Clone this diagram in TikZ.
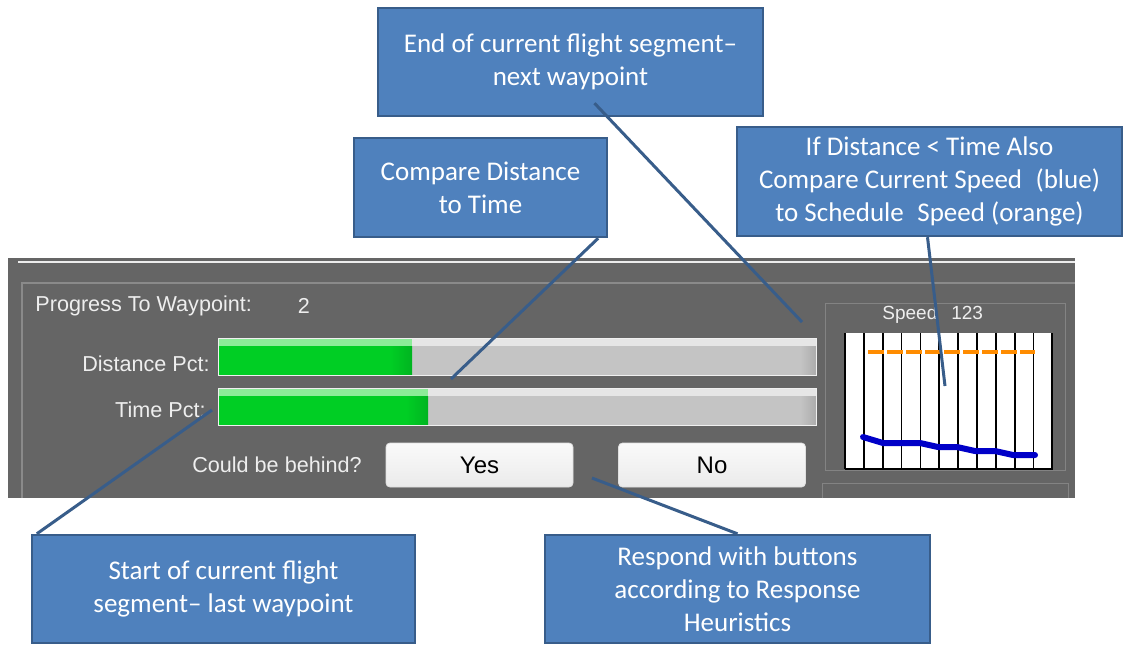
\documentclass[tikz,border=0pt]{standalone}
\usepackage{fontspec}
\setmainfont{Carlito}
\newfontfamily\uifont{Liberation Sans}
\usetikzlibrary{calc}
\definecolor{CallFill}{RGB}{79,129,189}
\definecolor{CallRule}{RGB}{56,93,138}
\definecolor{PanelGray}{RGB}{101,101,101}
\definecolor{PanelRule}{RGB}{138,138,138}
\definecolor{BarGray}{RGB}{196,196,196}
\definecolor{BarLight}{RGB}{230,230,230}
\definecolor{BarGreen}{RGB}{0,206,36}
\definecolor{BarGreenLight}{RGB}{140,236,152}
\definecolor{BarGreenDark}{RGB}{0,180,32}
\definecolor{SchedOrange}{RGB}{255,140,0}
\definecolor{SpeedBlue}{RGB}{0,0,200}
\definecolor{LabelWhite}{RGB}{238,238,238}

\begin{document}
\begin{tikzpicture}[x=0.5pt,y=-0.5pt,
    callout/.style={draw=CallRule,line width=1.2pt,fill=CallFill,text=white,align=center,
      font=\fontsize{13.5}{16.5}\selectfont,inner sep=0pt},
    lead/.style={draw=CallRule,line width=1.5pt},
    uilabel/.style={text=LabelWhite,font=\uifont\fontsize{10.8}{13}\selectfont,inner sep=0pt},
    btn/.style={draw=white!75!gray,rounded corners=2pt,top color=white!96!gray,bottom color=white!84!gray,
      minimum width=93.5pt,minimum height=22pt,font=\uifont\fontsize{12}{14}\selectfont,inner sep=0pt}
  ]
  \useasboundingbox[fill=white] (0,0) rectangle (1128,645);

  % application panel
  \fill[PanelGray] (8,258) rectangle (1075,498);
  \draw[white!85!gray,line width=1pt] (18,262) -- (1075,262);
  \draw[PanelRule,line width=0.6pt] (22,498) -- (22,283) -- (1075,283);

  \node[uilabel,anchor=west] (prog) at (35,306) {Progress To Waypoint:};
  \node[uilabel] (progval) at (304,306) {2};
  \node[uilabel,anchor=east] (distlbl) at (210,364) {Distance Pct:};
  \node[uilabel,anchor=east] (timelbl) at (206,410) {Time Pct:};
  \node[uilabel] (behind) at (277,465) {Could be behind?};

  % progress bars
  \foreach \y/\g in {338/412,388/428}{
    \fill[BarGray] (218,\y) rectangle (816,\y+37);
    \fill[BarLight] (218,\y) rectangle (816,\y+8);
    \fill[right color=BarGray!88!black,left color=BarGray] (800,\y+8) rectangle (816,\y+37);
    \fill[BarGreen] (218,\y) rectangle (\g,\y+37);
    \fill[BarGreenLight] (218,\y) rectangle (\g,\y+8);
    \fill[left color=BarGreen,right color=BarGreenDark] (\g-22,\y+8) rectangle (\g,\y+37);
    \draw[white!88!gray,line width=0.5pt] (218,\y) rectangle (816,\y+37);
  }

  \node[btn] (yes) at (479.5,465) {Yes};
  \node[btn] (no) at (712,465) {No};

  % speed chart
  \draw[PanelRule!80!PanelGray,line width=0.5pt] (825,303) rectangle (1065,470);
  \draw[PanelRule!80!PanelGray,line width=0.5pt] (822,498) -- (822,483) -- (1068,483) -- (1068,498);
  \node[uilabel,anchor=west,font=\uifont\fontsize{9.5}{11}\selectfont] (speedlbl) at (882,315)
    {Speed\hspace{7pt}123};
  \fill[white] (845,333) rectangle (1053,469);
  \foreach \i in {0,...,11}
    \draw[black,line width=0.9pt] (845+\i*18.85,333) -- (845+\i*18.85,469);
  \draw[black,line width=1pt] (845,469) -- (1053,469);
  \draw[SchedOrange,line width=2pt,dash pattern=on 8pt off 1.5pt] (868,352) -- (1035,352);
  \draw[SpeedBlue,line width=3pt,line cap=round,line join=round]
    (863,437) -- (883,443) -- (920,443) -- (938,447) -- (957,447) -- (975,451)
    -- (995,451) -- (1013,455) -- (1035,455);

  % callouts
  \node[callout,minimum width=192.5pt,minimum height=54pt] (endseg) at (570.5,62)
    {End of current flight segment--\\next waypoint};
  \node[callout,minimum width=126.5pt,minimum height=49.5pt] (cmp) at (480.5,187.5)
    {Compare Distance\\to Time};
  \node[callout,minimum width=192.5pt,minimum height=54.5pt] (ifbox) at (929.5,181.5)
    {If Distance < Time Also\\Compare Current Speed\enspace(blue)\\to Schedule\enspace Speed (orange)};
  \node[callout,minimum width=191.5pt,minimum height=54pt] (startseg) at (223.5,589)
    {Start of current flight\\segment-- last waypoint};
  \node[callout,minimum width=192.5pt,minimum height=54pt] (resp) at (737.5,589)
    {Respond with buttons\\according to Response\\Heuristics};

  % leader lines
  \coordinate (tipNext) at (802,322);
  \coordinate (tipBars) at (451,379);
  \coordinate (tipChart) at (945,386);
  \coordinate (tipTime) at (212,410);
  \coordinate (tipYes) at (592,478);
  \draw[lead] ($(endseg.south)+(24,-14)$) -- (tipNext);
  \draw[lead] ($(cmp.south east)+(-10,0)$) -- (tipBars);
  \draw[lead] ($(ifbox.south)+(-2,0)$) -- (tipChart);
  \draw[lead] ($(startseg.north west)+(6,0)$) -- (tipTime);
  \draw[lead] (resp.north) -- (tipYes);
\end{tikzpicture}
\end{document}
